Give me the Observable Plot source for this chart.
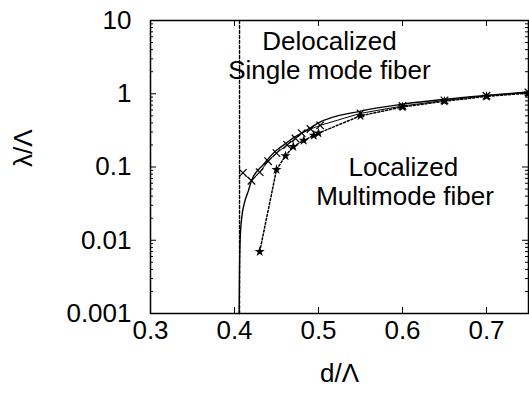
<!DOCTYPE html>
<html>
<head>
<meta charset="utf-8">
<script src="https://cdn.jsdelivr.net/npm/d3@7"></script>
<script src="https://cdn.jsdelivr.net/npm/@observablehq/plot@0.6"></script>
<style>
  html, body { margin: 0; padding: 0; background: white; }
</style>
</head>
<body>
<div id="chart"></div>
<script>
// ---- data ----
const xTicks = [0.3, 0.4, 0.5, 0.6, 0.7];
const yTicks = [0.001, 0.01, 0.1, 1, 10];

// solid theoretical curve (no markers)
const theoryX = [0.4055, 0.406, 0.407, 0.409, 0.412, 0.4167, 0.4202, 0.435, 0.449, 0.46, 0.47, 0.48, 0.49, 0.5, 0.55, 0.6, 0.65, 0.7, 0.75];
const theoryY = [0.001, 0.004, 0.012, 0.022, 0.033, 0.048, 0.065, 0.11, 0.165, 0.205, 0.25, 0.29, 0.34, 0.4, 0.58, 0.72, 0.84, 0.95, 1.06];

// thin solid series with "x" markers
const seriesBX = [0.41, 0.4202, 0.43, 0.44, 0.45, 0.4627, 0.4726, 0.48, 0.4905, 0.502, 0.55, 0.6, 0.65, 0.7, 0.75];
const seriesBY = [0.083, 0.065, 0.085, 0.12, 0.155, 0.2, 0.245, 0.29, 0.33, 0.37, 0.54, 0.68, 0.81, 0.94, 1.04];

// dotted series with star markers
const seriesCX = [0.43, 0.45, 0.4607, 0.47, 0.4825, 0.4944, 0.5, 0.55, 0.6, 0.65, 0.7, 0.75];
const seriesCY = [0.007, 0.092, 0.142, 0.19, 0.23, 0.27, 0.29, 0.5, 0.66, 0.79, 0.92, 1.02];

// dashed vertical boundary
const boundaryX = [0.406, 0.406];
const boundaryY = [10, 0.001];

// annotations
const labelText = ["Delocalized", "Single mode fiber", "Localized", "Multimode fiber"];
const labelX = [0.513, 0.513, 0.601, 0.603];
const labelY = [5.2, 2.05, 0.099, 0.0395];

// ---- build tables ----
const theory = theoryX.map((x, i) => ({x, y: theoryY[i]}));
const seriesB = seriesBX.map((x, i) => ({x, y: seriesBY[i]}));
const seriesC = seriesCX.map((x, i) => ({x, y: seriesCY[i]}));
const boundary = boundaryX.map((x, i) => ({x, y: boundaryY[i]}));
const labels = labelText.map((t, i) => ({t, x: labelX[i], y: labelY[i]}));

const W = 529, H = 393, mL = 150, mR = 1, mT = 20, mB = 80;
const innerW = W - mL - mR, innerH = H - mT - mB;

const minorY = [];
for (let i = 0; i < yTicks.length - 1; i++) {
  for (let k = 2; k <= 9; k++) minorY.push(yTicks[i] * k);
}

const chart = Plot.plot({
  width: W, height: H,
  marginLeft: mL, marginRight: mR, marginTop: mT, marginBottom: mB,
  x: {domain: [0.3, 0.75]},
  y: {type: "log", domain: [0.001, 10]},
  style: {fontFamily: "'Liberation Sans', Arial, Helvetica, sans-serif", fontSize: "26px", color: "black", background: "white"},
  marks: [
    // inward ticks
    Plot.tickX(xTicks, {x: d => d, insetTop: innerH - 6, stroke: "black"}),
    Plot.tickX(xTicks, {x: d => d, insetBottom: innerH - 6, stroke: "black"}),
    Plot.tickY(yTicks, {y: d => d, insetRight: innerW - 6, stroke: "black"}),
    Plot.tickY(yTicks, {y: d => d, insetLeft: innerW - 6, stroke: "black"}),
    Plot.tickY(minorY, {y: d => d, insetRight: innerW - 3, stroke: "black"}),
    Plot.tickY(minorY, {y: d => d, insetLeft: innerW - 3, stroke: "black"}),
    Plot.axisX({ticks: xTicks, tickSize: 0, tickPadding: 7, tickFormat: d3.format(".1f"), label: null}),
    Plot.axisY({ticks: yTicks, tickSize: 0, tickPadding: 19, tickFormat: d => String(d), label: null}),
    // curves
    Plot.line(boundary, {x: "x", y: "y", stroke: "black", strokeWidth: 1.4, strokeDasharray: "3,2"}),
    Plot.line(theory, {x: "x", y: "y", stroke: "black", strokeWidth: 1.4, curve: "monotone-x"}),
    Plot.line(seriesB, {x: "x", y: "y", stroke: "black", strokeWidth: 1}),
    Plot.dot(seriesB, {x: "x", y: "y", symbol: "times", r: 3.5, stroke: "black", strokeWidth: 1.2}),
    Plot.line(seriesC, {x: "x", y: "y", stroke: "black", strokeWidth: 1.5, strokeDasharray: "2,2"}),
    Plot.dot(seriesC, {x: "x", y: "y", symbol: "star", r: 3.2, fill: "black"}),
    // annotations
    Plot.text(labels, {x: "x", y: "y", text: "t", fontSize: 26, fill: "black", textAnchor: "middle"}),
    // axis titles
    Plot.text(["d/Λ"], {frameAnchor: "bottom", dy: 68, fontSize: 26, fill: "black"}),
    Plot.text(["λ/Λ"], {frameAnchor: "left", dx: -127, rotate: -90, fontSize: 26, fill: "black"}),
    Plot.frame({stroke: "black", strokeWidth: 1.5})
  ]
});
document.getElementById("chart").appendChild(chart);
</script>
</body>
</html>
